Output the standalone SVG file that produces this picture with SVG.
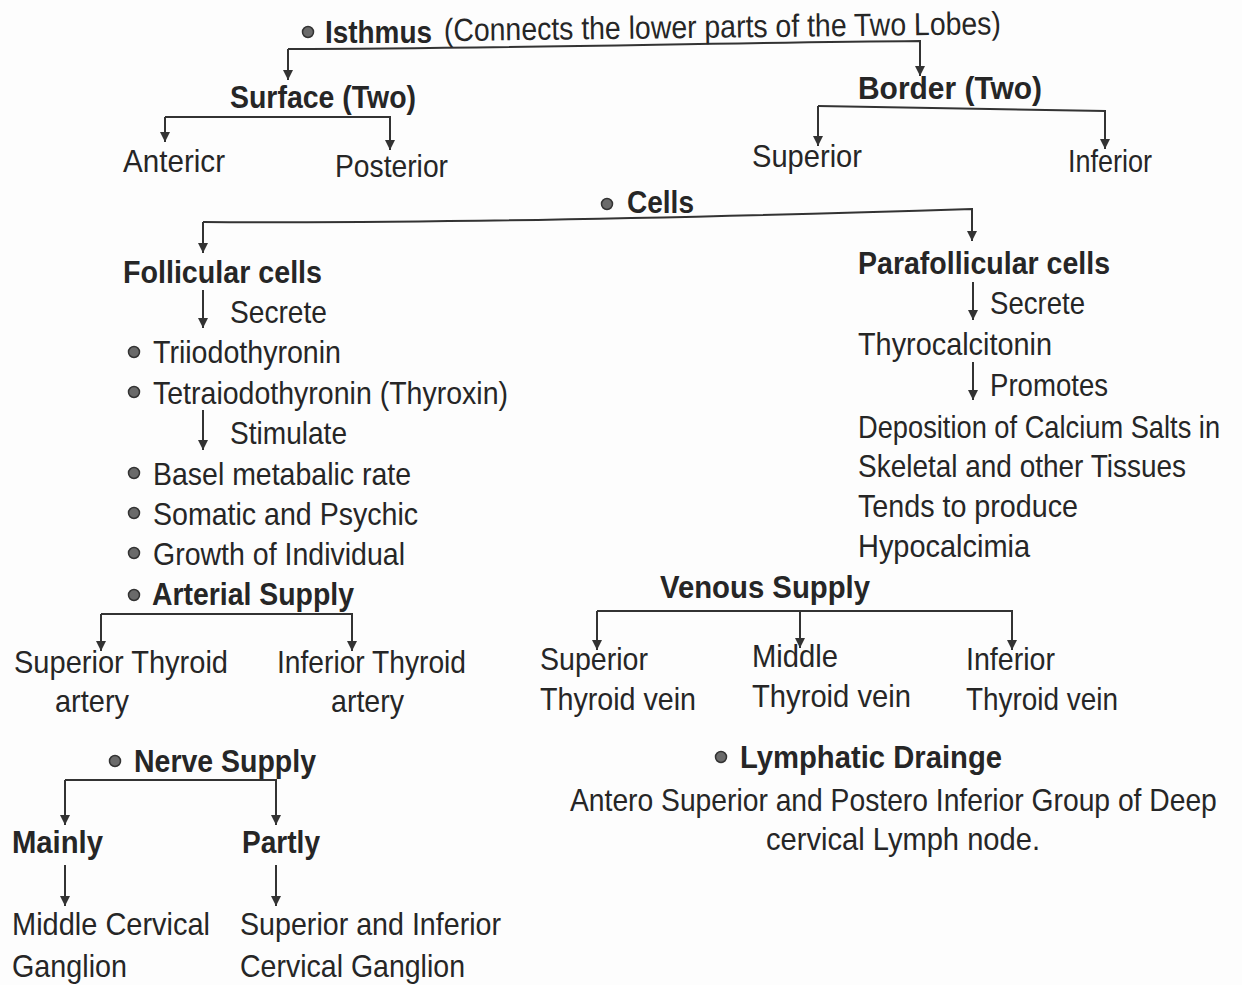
<svg xmlns="http://www.w3.org/2000/svg" width="1242" height="985" viewBox="0 0 1242 985">
<style>
text{font-family:"Liberation Sans",Arial,sans-serif;font-size:32px;fill:#262626}
.b{font-weight:bold}
.c{stroke:#333;stroke-width:2;fill:none}
.dot{fill:#6a6a6a;stroke:#333;stroke-width:1.5}
</style>
<defs>
<marker id="ah" viewBox="0 0 10 10" refX="10" refY="5" markerWidth="5" markerHeight="5" orient="auto" markerUnits="strokeWidth">
<path d="M0,0 L10,5 L0,10 z" fill="#333"/>
</marker>
</defs>
<rect width="1242" height="985" fill="#fdfdfd"/>
<g id="connectors">
<path class="c" d="M288,49 C500,49 700,43 920,41 L920,76" marker-end="url(#ah)"/>
<path class="c" d="M288,49 L288,80" marker-end="url(#ah)"/>
<path class="c" d="M165,117 L390,117 L390,150" marker-end="url(#ah)"/>
<path class="c" d="M165,117 L165,142" marker-end="url(#ah)"/>
<path class="c" d="M818,106 L1105,111 L1105,149" marker-end="url(#ah)"/>
<path class="c" d="M818,106 L818,146" marker-end="url(#ah)"/>
<path class="c" d="M203,222 C450,224 750,216 972,209 L972,241" marker-end="url(#ah)"/>
<path class="c" d="M203,222 L203,253" marker-end="url(#ah)"/>
<path class="c" d="M203,290 L203,328" marker-end="url(#ah)"/>
<path class="c" d="M203,410 L203,450" marker-end="url(#ah)"/>
<path class="c" d="M101,614 L352,614 L352,651" marker-end="url(#ah)"/>
<path class="c" d="M101,614 L101,651" marker-end="url(#ah)"/>
<path class="c" d="M65,780 L276,780 L276,825" marker-end="url(#ah)"/>
<path class="c" d="M65,780 L65,825" marker-end="url(#ah)"/>
<path class="c" d="M65,865 L65,906" marker-end="url(#ah)"/>
<path class="c" d="M276,865 L276,906" marker-end="url(#ah)"/>
<path class="c" d="M973,282 L973,320" marker-end="url(#ah)"/>
<path class="c" d="M973,362 L973,400" marker-end="url(#ah)"/>
<path class="c" d="M597,611 L1012,611 L1012,650" marker-end="url(#ah)"/>
<path class="c" d="M597,611 L597,650" marker-end="url(#ah)"/>
<path class="c" d="M800,611 L800,648" marker-end="url(#ah)"/>
</g>
<g id="isthmus">
<circle class="dot" cx="308" cy="32" r="5.5"/>
<text class="b" x="325" y="43" textLength="107" lengthAdjust="spacingAndGlyphs">Isthmus</text>
<text x="444" y="41" textLength="557" lengthAdjust="spacingAndGlyphs" transform="rotate(-0.7 444 41)">(Connects the lower parts of the Two Lobes)</text>
</g>
<g id="surface"><text class="b" x="230" y="108" textLength="186" lengthAdjust="spacingAndGlyphs">Surface (Two)</text></g>
<g id="anterior"><text x="123" y="172" textLength="102" lengthAdjust="spacingAndGlyphs">Antericr</text></g>
<g id="posterior"><text x="335" y="177" textLength="113" lengthAdjust="spacingAndGlyphs">Posterior</text></g>
<g id="border"><text class="b" x="858" y="99" textLength="184" lengthAdjust="spacingAndGlyphs">Border  (Two)</text></g>
<g id="b-superior"><text x="752" y="167" textLength="110" lengthAdjust="spacingAndGlyphs">Superior</text></g>
<g id="b-inferior"><text x="1068" y="172" textLength="84" lengthAdjust="spacingAndGlyphs">Inferior</text></g>
<g id="cells">
<circle class="dot" cx="607" cy="204" r="5.5"/>
<text class="b" x="627" y="213" textLength="67" lengthAdjust="spacingAndGlyphs">Cells</text>
</g>
<g id="follicular">
<text class="b" x="123" y="283" textLength="199" lengthAdjust="spacingAndGlyphs">Follicular cells</text>
<text x="230" y="323" textLength="97" lengthAdjust="spacingAndGlyphs">Secrete</text>
<circle class="dot" cx="134" cy="352" r="5.5"/>
<text x="153" y="363" textLength="188" lengthAdjust="spacingAndGlyphs">Triiodothyronin</text>
<circle class="dot" cx="134" cy="392" r="5.5"/>
<text x="153" y="404" textLength="355" lengthAdjust="spacingAndGlyphs">Tetraiodothyronin (Thyroxin)</text>
<text x="230" y="444" textLength="117" lengthAdjust="spacingAndGlyphs">Stimulate</text>
<circle class="dot" cx="134" cy="473" r="5.5"/>
<text x="153" y="485" textLength="258" lengthAdjust="spacingAndGlyphs">Basel metabalic rate</text>
<circle class="dot" cx="134" cy="513" r="5.5"/>
<text x="153" y="525" textLength="265" lengthAdjust="spacingAndGlyphs">Somatic and Psychic</text>
<circle class="dot" cx="134" cy="553" r="5.5"/>
<text x="153" y="565" textLength="252" lengthAdjust="spacingAndGlyphs">Growth of Individual</text>
</g>
<g id="arterial">
<circle class="dot" cx="134" cy="595" r="5.5"/>
<text class="b" x="152" y="605" textLength="202" lengthAdjust="spacingAndGlyphs">Arterial Supply</text>
</g>
<g id="sup-artery">
<text x="14" y="673" textLength="214" lengthAdjust="spacingAndGlyphs">Superior Thyroid</text>
<text x="55" y="712" textLength="74" lengthAdjust="spacingAndGlyphs">artery</text>
</g>
<g id="inf-artery">
<text x="277" y="673" textLength="189" lengthAdjust="spacingAndGlyphs">Inferior Thyroid</text>
<text x="331" y="712" textLength="73" lengthAdjust="spacingAndGlyphs">artery</text>
</g>
<g id="nerve">
<circle class="dot" cx="115" cy="761" r="5.5"/>
<text class="b" x="134" y="772" textLength="182" lengthAdjust="spacingAndGlyphs">Nerve Supply</text>
</g>
<g id="mainly"><text class="b" x="12" y="853" textLength="91" lengthAdjust="spacingAndGlyphs">Mainly</text></g>
<g id="partly"><text class="b" x="242" y="853" textLength="78" lengthAdjust="spacingAndGlyphs">Partly</text></g>
<g id="middle-ganglion">
<text x="12" y="935" textLength="198" lengthAdjust="spacingAndGlyphs">Middle Cervical</text>
<text x="12" y="977" textLength="115" lengthAdjust="spacingAndGlyphs">Ganglion</text>
</g>
<g id="sup-inf-ganglion">
<text x="240" y="935" textLength="261" lengthAdjust="spacingAndGlyphs">Superior and Inferior</text>
<text x="240" y="977" textLength="225" lengthAdjust="spacingAndGlyphs">Cervical Ganglion</text>
</g>
<g id="parafollicular">
<text class="b" x="858" y="274" textLength="252" lengthAdjust="spacingAndGlyphs">Parafollicular cells</text>
<text x="990" y="314" textLength="95" lengthAdjust="spacingAndGlyphs">Secrete</text>
<text x="858" y="355" textLength="194" lengthAdjust="spacingAndGlyphs">Thyrocalcitonin</text>
<text x="990" y="396" textLength="118" lengthAdjust="spacingAndGlyphs">Promotes</text>
<text transform="translate(858,438) scale(0.852,1)">Deposition of Calcium Salts in</text>
<text x="858" y="477" textLength="328" lengthAdjust="spacingAndGlyphs">Skeletal and other Tissues</text>
<text x="858" y="517" textLength="220" lengthAdjust="spacingAndGlyphs">Tends to produce</text>
<text x="858" y="557" textLength="172" lengthAdjust="spacingAndGlyphs">Hypocalcimia</text>
</g>
<g id="venous"><text class="b" x="660" y="598" textLength="210" lengthAdjust="spacingAndGlyphs">Venous Supply</text></g>
<g id="sup-vein">
<text x="540" y="670" textLength="108" lengthAdjust="spacingAndGlyphs">Superior</text>
<text x="540" y="710" textLength="156" lengthAdjust="spacingAndGlyphs">Thyroid vein</text>
</g>
<g id="mid-vein">
<text x="752" y="667" textLength="86" lengthAdjust="spacingAndGlyphs">Middle</text>
<text x="752" y="707" textLength="159" lengthAdjust="spacingAndGlyphs">Thyroid vein</text>
</g>
<g id="inf-vein">
<text x="966" y="670" textLength="89" lengthAdjust="spacingAndGlyphs">Inferior</text>
<text x="966" y="710" textLength="152" lengthAdjust="spacingAndGlyphs">Thyroid vein</text>
</g>
<g id="lymphatic">
<circle class="dot" cx="721" cy="757" r="5.5"/>
<text class="b" x="740" y="768" textLength="262" lengthAdjust="spacingAndGlyphs">Lymphatic Drainge</text>
<text transform="translate(570,811) scale(0.883,1)">Antero Superior and Postero Inferior Group of Deep</text>
<text x="766" y="850" textLength="274" lengthAdjust="spacingAndGlyphs">cervical Lymph node.</text>
</g>
</svg>
